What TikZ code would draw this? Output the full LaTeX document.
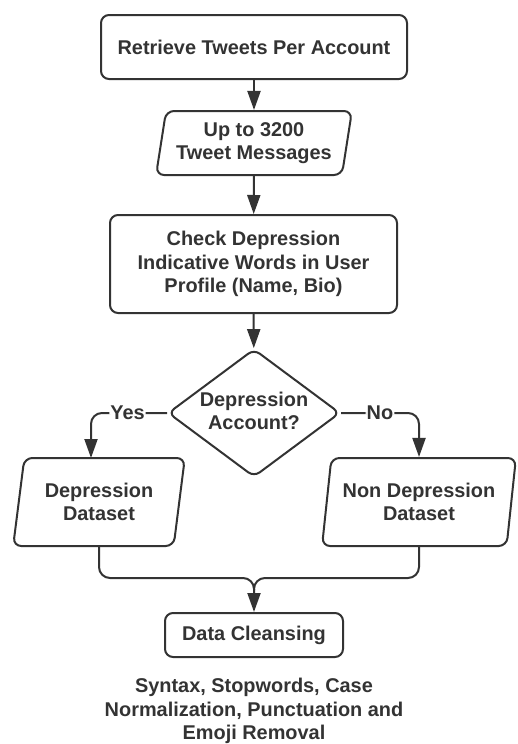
\documentclass[tikz,border=0pt]{standalone}
\usepackage{fontspec}
\setmainfont{Liberation Sans}
\usetikzlibrary{shapes.geometric,arrows.meta,calc}
\definecolor{ink}{HTML}{333333}
\begin{document}
\begin{tikzpicture}[x=1pt,y=-1pt,
  every node/.style={font=\bfseries\fontsize{19.9}{23.5}\selectfont, text=ink, align=center},
  shp/.style={draw=ink, line width=2pt, fill=white, inner sep=0pt},
  boxr/.style={shp, rectangle, rounded corners=8pt},
  para/.style={shp, trapezium, trapezium left angle=78, trapezium right angle=102, trapezium stretches=true, rounded corners=8pt},
  dia/.style={shp, diamond, rounded corners=7pt},
  conn/.style={draw=ink, line width=2pt, -{Triangle[length=19pt,width=13pt]}},
  lbl/.style={fill=white, inner sep=1pt}]
\useasboundingbox (0,0) rectangle (517,744);
\node[boxr, minimum width=306pt, minimum height=64pt] (b1) at (254,47) {Retrieve Tweets Per Account};
\node[para, minimum width=196pt, minimum height=64pt] (p2) at (254,143) {Up to 3200\\Tweet Messages};
\node[boxr, minimum width=287pt, minimum height=98pt] (b3) at (253.5,264) {Check Depression\\Indicative Words in User\\Profile (Name, Bio)};
\node[dia, minimum width=172pt, minimum height=128pt] (d) at (254,413) {};
\node at (254,411) (dt) {Depression\\Account?};
\node[para, minimum width=172pt, minimum height=88pt] (pL) at (99,502) {Depression\\Dataset};
\node[para, minimum width=194pt, minimum height=88pt] (pR) at (419,502) {Non Depression\\Dataset};
\node[boxr, minimum width=178pt, minimum height=44pt] (b4) at (254,635) {Data Cleansing};
\node (note) at (254,711) {Syntax, Stopwords, Case\\Normalization, Punctuation and\\Emoji Removal};
\coordinate (m) at (254,578);
\coordinate (yl) at (91,458);
\draw[conn] (b1) -- (p2);
\draw[conn] (p2) -- (b3);
\draw[conn] (b3) -- (d);
\draw[conn, rounded corners=11pt] (d.west) -| (yl) node[pos=0.26, lbl] {Yes};
\draw[conn, rounded corners=11pt] (d.east) -| (pR.north) node[pos=0.25, lbl] {No};
\draw[draw=ink, line width=2pt, rounded corners=11pt] (pR.south) |- (m) -- ++(0,12);
\draw[conn, rounded corners=11pt] (pL.south) |- (m) -- (b4.north);
\end{tikzpicture}
\end{document}
